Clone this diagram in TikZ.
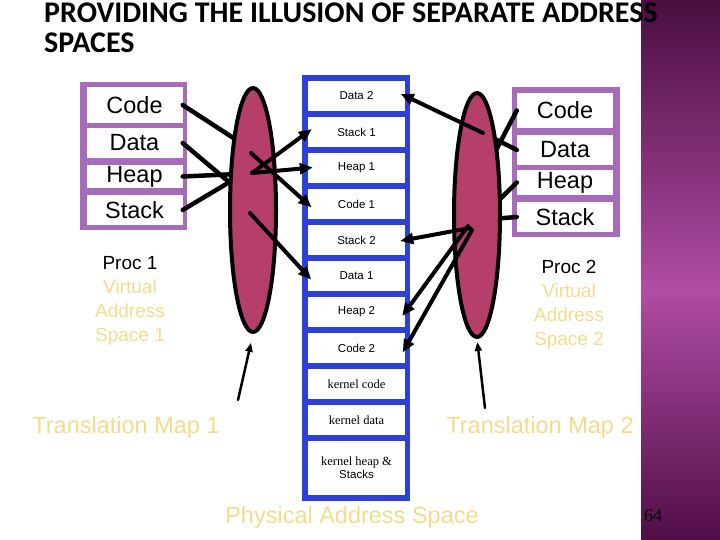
\documentclass[tikz,border=0pt]{standalone}
\usepackage{fontspec}
\setmainfont{Liberation Sans}
\newfontfamily\titlefont{Carlito}
\newfontfamily\kfont{Liberation Serif}
\usetikzlibrary{shapes.geometric,arrows.meta}
\definecolor{boxpurple}{RGB}{166,108,186}
\definecolor{memblue}{RGB}{46,64,216}
\definecolor{mapred}{RGB}{182,62,106}
\definecolor{pale}{RGB}{242,220,140}
\definecolor{sbtop}{RGB}{74,14,64}
\definecolor{sbmid}{RGB}{176,76,164}
\definecolor{sbbot}{RGB}{80,14,70}
\begin{document}
\begin{tikzpicture}[x=1pt, y=-1pt, line join=round, line cap=round,
	vcell/.style={fill=white, inner sep=0pt, minimum width=96pt, font=\fontsize{23.5}{26}\selectfont},
	pcell/.style={fill=white, inner sep=0pt, minimum width=97pt, minimum height=30pt, font=\fontsize{11.5}{13}\selectfont},
	kcell/.style={pcell, font=\kfont\fontsize{12.5}{14}\selectfont},
	map/.style={ellipse, draw=black, line width=4pt, fill=mapred, minimum width=46pt, minimum height=244pt, inner sep=0pt},
	link/.style={line width=4.5pt},
	tomem/.style={line width=4pt, -{Triangle[length=13pt,width=11pt]}, shorten >=-5pt},
	tomap/.style={line width=2.5pt, -{Triangle[length=9pt,width=7pt]}},
	paletext/.style={text=pale, font=\fontsize{23.5}{26}\selectfont}]
	\useasboundingbox (0,0) rectangle (720,540);
	\shade[top color=sbtop, bottom color=sbmid] (641,0) rectangle (720,290);
	\shade[top color=sbmid, bottom color=sbbot] (641,290) rectangle (720,540);
	\node[anchor=north west, inner sep=0pt, align=left, font=\titlefont\bfseries\fontsize{30}{30}\selectfont] (title) at (44,3) {PROVIDING THE ILLUSION OF SEPARATE ADDRESS\\SPACES};

	% proc 1 virtual space
	\fill[boxpurple] (80,82) rectangle (187,230);
	\node[vcell, minimum height=36pt] (lcode) at (134.5,105) {Code};
	\node[vcell, minimum height=30pt] (ldata) at (134.5,143) {Data};
	\node[vcell, minimum height=23pt] (lheap) at (134.5,176.5) {Heap};
	\node[vcell, minimum height=30pt] (lstack) at (134.5,210) {Stack};
	\node[align=center, font=\fontsize{19}{24}\selectfont] (proc1) at (130,301) {Proc 1\\\textcolor{pale}{Virtual}\\\textcolor{pale}{Address}\\\textcolor{pale}{Space 1}};

	% proc 2 virtual space
	\fill[boxpurple] (512,87) rectangle (620,237);
	\node[vcell, minimum height=35pt] (rcode) at (565,110.5) {Code};
	\node[vcell, minimum height=30pt] (rdata) at (565,150) {Data};
	\node[vcell, minimum height=25pt] (rheap) at (565,182.5) {Heap};
	\node[vcell, minimum height=30pt] (rstack) at (565,217) {Stack};
	\node[align=center, font=\fontsize{19}{24}\selectfont] (proc2) at (569,305) {Proc 2\\\textcolor{pale}{Virtual}\\\textcolor{pale}{Address}\\\textcolor{pale}{Space 2}};

	% physical memory
	\fill[memblue] (302,75) rectangle (410,501);
	\foreach \n/\t/\y in {d2/Data 2/96, s1/Stack 1/132, h1/Heap 1/168, c1/Code 1/204,
		s2/Stack 2/240, da1/Data 1/276, h2/Heap 2/312, c2/Code 2/348} {
		\node[pcell] (\n) at (356.5,\y) {\t};
	}
	\node[kcell] (kc) at (356.5,384) {kernel code};
	\node[kcell] (kd) at (356.5,420) {kernel data};
	\node[pcell, minimum height=54pt, align=center] (kh) at (356.5,468) {{\kfont\fontsize{12.5}{14}\selectfont kernel heap \&}\\Stacks};
	\node[paletext] (phys) at (352,517) {Physical Address Space};

	% lines into the maps
	\coordinate (l1c) at (238,141);
	\coordinate (l1d) at (236,188);
	\coordinate (l1h) at (238,174);
	\coordinate (l1s) at (238,177);
	\draw[link] (lcode.east) -- (l1c);
	\draw[link] (ldata.east) -- (l1d);
	\draw[link] (lheap.east) -- (l1h);
	\draw[link] (lstack.east) -- (l1s);
	\coordinate (m2c) at (494,154);
	\coordinate (m2d) at (483,133);
	\coordinate (m2h) at (492,207);
	\coordinate (m2s) at (492,219);
	\draw[link] (rcode.west) -- (m2c);
	\draw[link] (rdata.west) -- (m2d);
	\draw[link] (rheap.west) -- (m2h);
	\draw[link] (rstack.west) -- (m2s);

	% translation maps
	\node[map] (tm1) at (253,210) {};
	\node[map] (tm2) at (477,215) {};

	% map 1 to memory
	\coordinate (m1c) at (251,153);
	\coordinate (m1s) at (252,173);
	\coordinate (m1d) at (250,213);
	\draw[tomem] (m1c) -- (c1.west);
	\draw[tomem] (m1s) -- (s1.west);
	\draw[tomem] (m1s) -- (h1.west);
	\draw[tomem] (m1d) -- (da1.west);
	% map 2 to memory
	\coordinate (n2s) at (470,228);
	\coordinate (n2h) at (468,226);
	\coordinate (n2c) at (472,230);
	\draw[tomem] (m2d) -- (d2.east);
	\draw[tomem] (n2s) -- (s2.east);
	\draw[tomem] (n2h) -- (h2.east);
	\draw[tomem] (n2c) -- (c2.east);

	% translation map labels
	\node[paletext] (tl1) at (126,427) {Translation Map 1};
	\node[paletext] (tl2) at (540,427) {Translation Map 2};
	\coordinate (t1) at (238,400);
	\coordinate (t2) at (485,408);
	\draw[tomap, shorten >=9pt] (t1) -- (tm1.south);
	\draw[tomap, shorten >=3pt] (t2) -- (tm2.south);

	\node[font=\kfont\fontsize{18}{20}\selectfont] (pg) at (653,516) {64};
\end{tikzpicture}
\end{document}
